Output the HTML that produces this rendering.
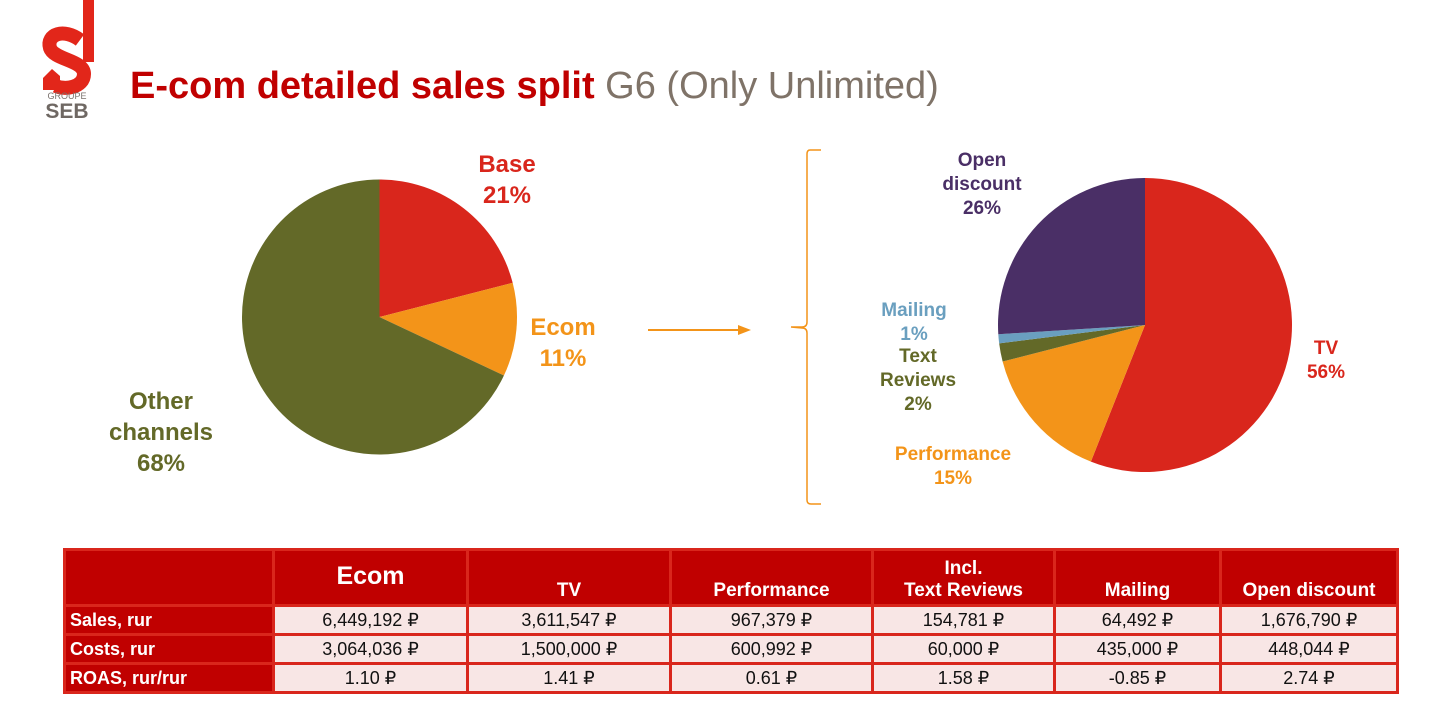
<!DOCTYPE html>
<html><head><meta charset="utf-8"><style>
body{margin:0;width:1434px;height:710px;background:#fff;overflow:hidden;position:relative;font-family:"Liberation Sans",Arial,sans-serif}
svg{position:absolute;left:0;top:0}
table{position:absolute;left:63px;top:548px;border-collapse:collapse;table-layout:fixed}
td{border:3px solid #d9261c;padding:0;text-align:center;font-size:18px;color:#111;background:#f8e6e5;height:26px}
td.l{background:#c00000;color:#fff;font-weight:bold;text-align:left;padding-left:4px;font-size:18px}
th{background:#c00000;color:#fff;font-weight:bold;font-size:19px;border-left:3px solid #d9261c;border-right:3px solid #d9261c;border-top:3px solid #d9261c;padding:0 0 2px 0;vertical-align:bottom;height:51px}
</style></head><body>
<svg width="1434" height="710">
<g>
<rect x="83" y="0" width="11" height="62" fill="#e2261a"/>
<path d="M80 40 C64 28 46 34 50 48 C54 60 84 60 84 74 C84 88 64 90 56 86" fill="none" stroke="#e2261a" stroke-width="14"/>
<polygon points="43,78 52,69 60,76 60,90 43,90" fill="#e2261a"/>
<text x="67" y="99" font-size="9" fill="#7a716c" text-anchor="middle">GROUPE</text>
<text x="67" y="118" font-size="21" font-weight="bold" fill="#6f6863" text-anchor="middle">SEB</text>
</g>
<text x="130" y="98" font-size="38"><tspan font-weight="bold" fill="#c00000">E-com detailed sales split</tspan><tspan fill="#7f7368"> G6 (Only Unlimited)</tspan></text>
<g id="pie1"></g>
<g id="pie2"></g>
<g font-weight="bold" text-anchor="middle">
<text x="507" y="172" font-size="24" fill="#d9261c">Base<tspan x="507" dy="31">21%</tspan></text>
<text x="563" y="335" font-size="24" fill="#f39419">Ecom<tspan x="563" dy="31">11%</tspan></text>
<text x="161" y="409" font-size="24" fill="#636928">Other<tspan x="161" dy="31">channels</tspan><tspan x="161" dy="31">68%</tspan></text>
<text x="982" y="166" font-size="19" fill="#4a2f66">Open<tspan x="982" dy="24">discount</tspan><tspan x="982" dy="24">26%</tspan></text>
<text x="914" y="316" font-size="19" fill="#6a9fbf">Mailing<tspan x="914" dy="24">1%</tspan></text>
<text x="918" y="362" font-size="19" fill="#636928">Text<tspan x="918" dy="24">Reviews</tspan><tspan x="918" dy="24">2%</tspan></text>
<text x="953" y="460" font-size="19" fill="#f39419">Performance<tspan x="953" dy="24">15%</tspan></text>
<text x="1326" y="354" font-size="19" fill="#d9261c">TV<tspan x="1326" dy="24">56%</tspan></text>
</g>
<g><line x1="648" y1="330" x2="740" y2="330" stroke="#f39419" stroke-width="2"/><polygon points="738,325 751,330 738,335" fill="#f39419"/></g>
<path d="M821 150 L810 150 Q807 150 807 154 L807 322 Q807 327 802 327 L791 327 L802 328 Q807 328 807 333 L807 500 Q807 504 811 504 L821 504" fill="none" stroke="#f39419" stroke-width="1.5"/>
</svg>
<table>
<colgroup><col style="width:209px"><col style="width:194px"><col style="width:203px"><col style="width:202px"><col style="width:182px"><col style="width:166px"><col style="width:177px"></colgroup>
<tr><th></th><th style="font-size:25px;vertical-align:middle">Ecom</th><th>TV</th><th>Performance</th><th>Incl.<br>Text Reviews</th><th>Mailing</th><th>Open discount</th></tr>
<tr><td class="l">Sales, rur</td><td>6,449,192 ₽</td><td>3,611,547 ₽</td><td>967,379 ₽</td><td>154,781 ₽</td><td>64,492 ₽</td><td>1,676,790 ₽</td></tr>
<tr><td class="l">Costs, rur</td><td>3,064,036 ₽</td><td>1,500,000 ₽</td><td>600,992 ₽</td><td>60,000 ₽</td><td>435,000 ₽</td><td>448,044 ₽</td></tr>
<tr><td class="l">ROAS, rur/rur</td><td>1.10 ₽</td><td>1.41 ₽</td><td>0.61 ₽</td><td>1.58 ₽</td><td>-0.85 ₽</td><td>2.74 ₽</td></tr>
</table>
<script>
const pie1Categories = ["Base","Ecom","Other channels"];
const pie1Values = [21, 11, 68];
const pie1Colors = ["#d9261c","#f39419","#636928"];
const pie2Categories = ["TV","Performance","Text Reviews","Mailing","Open discount"];
const pie2Values = [56, 15, 2, 1, 26];
const pie2Colors = ["#d9261c","#f39419","#636928","#6a9fbf","#4a2f66"];
function drawPie(gid, cats, vals, cols, cx, cy, r){
  const g = document.getElementById(gid);
  const total = vals.reduce((a,b)=>a+b,0);
  let a = 0;
  vals.forEach((v,i)=>{
    const a0 = a/total*2*Math.PI, a1 = (a+v)/total*2*Math.PI; a += v;
    const x0 = cx + r*Math.sin(a0), y0 = cy - r*Math.cos(a0);
    const x1 = cx + r*Math.sin(a1), y1 = cy - r*Math.cos(a1);
    const large = (a1-a0) > Math.PI ? 1 : 0;
    const p = document.createElementNS("http://www.w3.org/2000/svg","path");
    p.setAttribute("d", `M${cx} ${cy} L${x0} ${y0} A${r} ${r} 0 ${large} 1 ${x1} ${y1} Z`);
    p.setAttribute("fill", cols[i]);
    
    
    g.appendChild(p);
  });
}
drawPie("pie1", pie1Categories, pie1Values, pie1Colors, 379.5, 317, 137.5);
drawPie("pie2", pie2Categories, pie2Values, pie2Colors, 1145, 325, 147);
</script>
</body></html>
